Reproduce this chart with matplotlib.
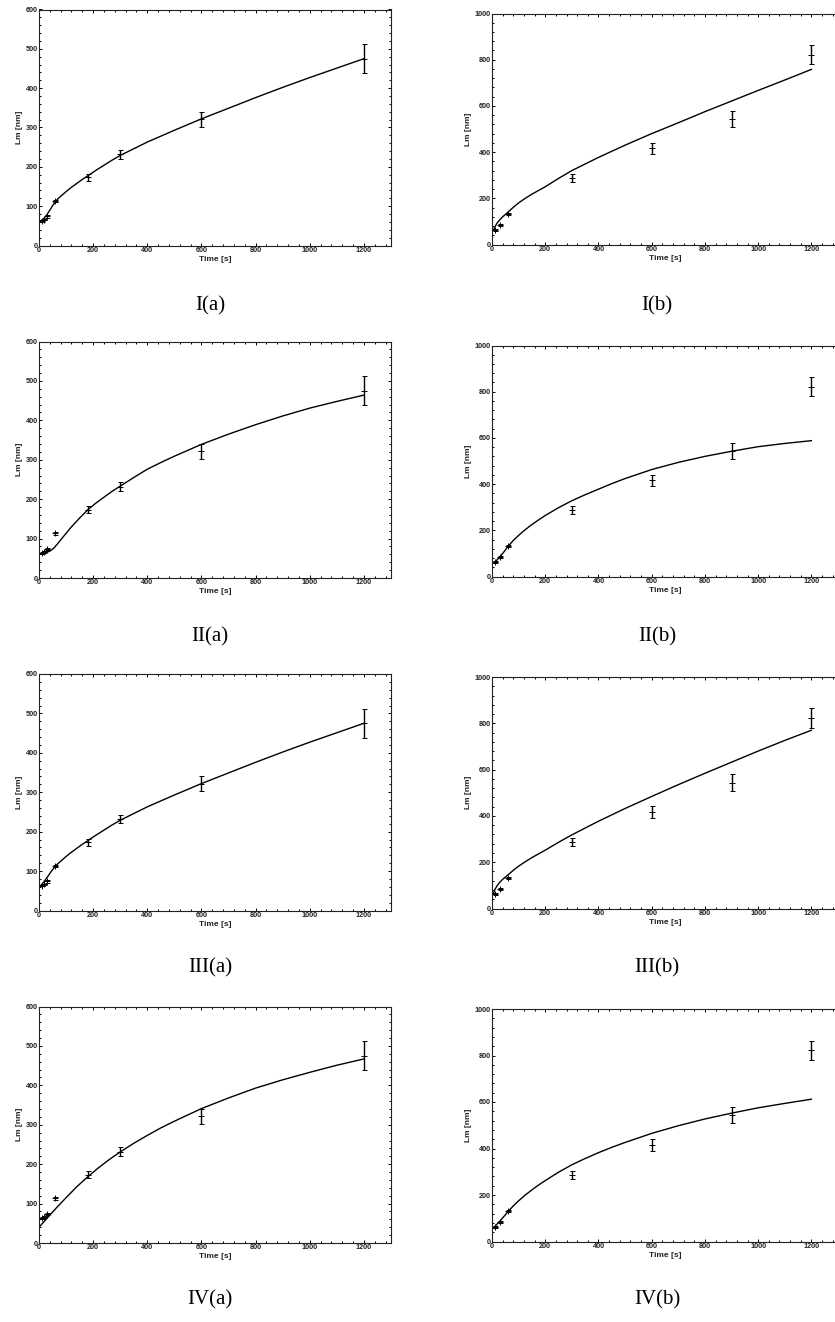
import matplotlib
matplotlib.use('Agg')
import matplotlib.pyplot as plt
from matplotlib.ticker import MultipleLocator, FixedLocator

W, H = 835, 1322
fig = plt.figure(figsize=(W / 100, H / 100), dpi=100)

# ---------------- data ----------------
t_a = [10, 20, 30, 60, 180, 300, 600, 1200]
lm_a = [63, 66, 74, 113, 173, 232, 321, 475]
err_a = [2, 2, 3, 3, 9, 11, 19, 37]

t_b = [10, 30, 60, 300, 600, 900, 1200]
lm_b = [62, 84, 131, 287, 416, 544, 822]
err_b = [3, 4, 4, 18, 25, 35, 42]

fit_Ia_t = [2, 15, 28, 40, 50, 60, 70, 80, 100, 120, 140, 160, 180, 210, 240, 270, 300, 350, 400, 500, 600, 700, 800, 900, 1000, 1100, 1200]
fit_Ia = [62, 66, 77, 90, 101, 111, 119, 125, 137, 148, 158, 168, 177, 191, 204, 217, 229, 246, 263, 293, 322, 349, 376, 402, 427, 451, 475]

fit_IIa_t = [2, 20, 40, 55, 70, 90, 120, 150, 180, 210, 240, 270, 300, 350, 400, 450, 500, 550, 600, 700, 800, 900, 1000, 1100, 1200]
fit_IIa = [61, 63, 68, 76, 88, 105, 130, 152, 173, 190, 205, 220, 233, 255, 276, 293, 309, 324, 339, 365, 389, 411, 431, 448, 464]

fit_IIIa_t = [2, 15, 30, 45, 60, 70, 80, 100, 120, 140, 160, 180, 210, 240, 270, 300, 350, 400, 500, 600, 700, 800, 900, 1000, 1100, 1200]
fit_IIIa = [60, 70, 84, 99, 112, 119, 125, 137, 148, 158, 168, 177, 191, 204, 217, 229, 246, 263, 293, 322, 349, 376, 402, 427, 451, 475]

fit_IVa_t = [0, 30, 60, 100, 140, 180, 220, 260, 300, 350, 400, 450, 500, 550, 600, 700, 800, 900, 1000, 1100, 1200]
fit_IVa = [40, 63, 86, 115, 143, 168, 191, 212, 231, 253, 273, 292, 309, 325, 341, 368, 393, 414, 433, 451, 467]

fit_Ib_t = [5, 10, 20, 30, 40, 60, 80, 100, 125, 150, 200, 250, 300, 400, 500, 600, 700, 800, 900, 1000, 1100, 1200]
fit_Ib = [62, 75, 94, 108, 120, 140, 161, 180, 200, 218, 250, 286, 320, 377, 430, 480, 527, 575, 621, 667, 712, 758]

fit_IIb_t = [5, 10, 20, 30, 45, 60, 80, 100, 125, 150, 175, 200, 250, 300, 350, 400, 450, 500, 600, 700, 800, 900, 1000, 1100, 1200]
fit_IIb = [58, 62, 73, 85, 107, 130, 156, 178, 203, 225, 245, 264, 298, 328, 354, 378, 402, 424, 463, 494, 520, 542, 562, 576, 588]

fit_IIIb_t = [5, 10, 20, 30, 40, 60, 80, 100, 125, 150, 200, 250, 300, 400, 500, 600, 700, 800, 900, 1000, 1100, 1200]
fit_IIIb = [62, 80, 100, 114, 126, 145, 165, 183, 202, 220, 252, 286, 318, 377, 432, 484, 535, 584, 632, 680, 726, 770]

fit_IVb_t = [5, 10, 20, 30, 45, 60, 80, 100, 125, 150, 175, 200, 250, 300, 350, 400, 450, 500, 600, 700, 800, 900, 1000, 1100, 1200]
fit_IVb = [58, 64, 76, 88, 108, 128, 153, 175, 200, 222, 243, 262, 298, 330, 357, 382, 405, 426, 465, 498, 527, 552, 575, 594, 612]

panel_labels = ["I(a)", "I(b)", "II(a)", "II(b)", "III(a)", "III(b)", "IV(a)", "IV(b)"]
x_label = "Time [s]"
y_label = "Lm [nm]"

# ---------------- layout (pixels) ----------------
left_x = (39, 391)
right_x = (492, 838)
left_rows = [(9.5, 245.5), (341.5, 578), (674, 910.5), (1006.5, 1243)]
right_rows = [(13.5, 244.5), (345.5, 576.5), (677, 908.5), (1009, 1241.5)]
label_y = [306, 637, 968, 1300]

tick_font = dict(family='Liberation Sans', weight='bold', size=5.2)
lab_font = dict(family='Liberation Sans', weight='bold', size=6.0)


def make_axes(xr, yr):
    l = xr[0] / W
    w = (xr[1] - xr[0]) / W
    b = 1 - yr[1] / H
    h = (yr[1] - yr[0]) / H
    return fig.add_axes([l, b, w, h])


def style(ax, ymax, ymajor, yminor):
    ax.set_xlim(0, 1300)
    ax.set_ylim(0, ymax)
    ax.xaxis.set_major_locator(FixedLocator([0, 200, 400, 600, 800, 1000, 1200]))
    ax.xaxis.set_minor_locator(MultipleLocator(40))
    ax.yaxis.set_major_locator(MultipleLocator(ymajor))
    ax.yaxis.set_minor_locator(MultipleLocator(yminor))
    ax.tick_params(which='both', direction='in', top=True, right=True,
                   width=0.7, colors='black', pad=1.0)
    ax.tick_params(which='major', length=2.4)
    ax.tick_params(which='minor', length=1.3)
    for lab in ax.get_xticklabels() + ax.get_yticklabels():
        lab.set_fontfamily(tick_font['family'])
        lab.set_fontweight('bold')
        lab.set_fontsize(tick_font['size'])
        lab.set_color('#222222')
    for s in ax.spines.values():
        s.set_linewidth(0.8)
        s.set_color('#222222')
    ax.set_xlabel(x_label, labelpad=1.5, color='#222222', **lab_font)
    ax.set_ylabel(y_label, labelpad=2.0, color='#222222', **lab_font)


fits_a = [(fit_Ia_t, fit_Ia), (fit_IIa_t, fit_IIa), (fit_IIIa_t, fit_IIIa), (fit_IVa_t, fit_IVa)]
fits_b = [(fit_Ib_t, fit_Ib), (fit_IIb_t, fit_IIb), (fit_IIIb_t, fit_IIIb), (fit_IVb_t, fit_IVb)]

for r in range(4):
    # left (a)
    ax = make_axes(left_x, left_rows[r])
    ax.plot(fits_a[r][0], fits_a[r][1], color='black', lw=1.0, solid_joinstyle='round')
    ax.errorbar(t_a, lm_a, yerr=err_a, fmt='+', color='black', ms=4, mew=0.7,
                elinewidth=1.0, capsize=1.8, capthick=1.0)
    style(ax, 600, 100, 20)
    fig.text(((left_x[0] + left_x[1]) / 2 - 5) / W, 1 - label_y[r] / H, panel_labels[2 * r],
             ha='center', va='center', family='Liberation Serif', size=15)

    # right (b)
    ax = make_axes(right_x, right_rows[r])
    ax.plot(fits_b[r][0], fits_b[r][1], color='black', lw=1.0, solid_joinstyle='round')
    ax.errorbar(t_b, lm_b, yerr=err_b, fmt='+', color='black', ms=4, mew=0.7,
                elinewidth=1.0, capsize=1.8, capthick=1.0)
    style(ax, 1000, 200, 40)
    fig.text(657 / W, 1 - label_y[r] / H, panel_labels[2 * r + 1],
             ha='center', va='center', family='Liberation Serif', size=15)

fig.savefig('out.png', dpi=100)
